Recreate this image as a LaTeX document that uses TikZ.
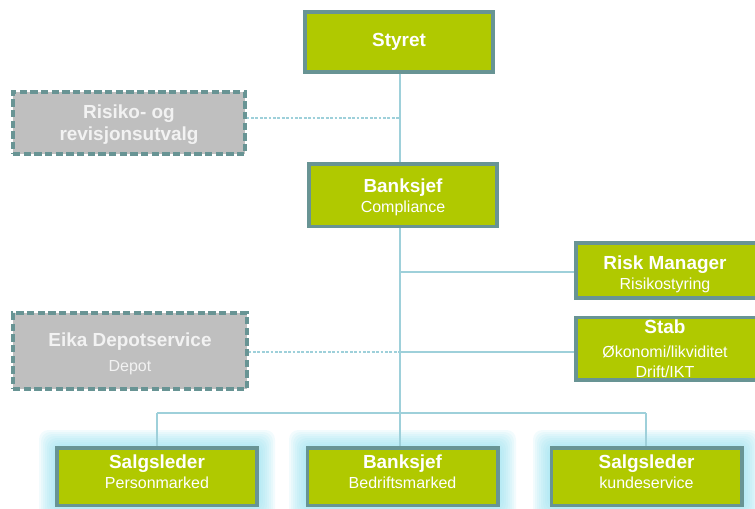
\documentclass[tikz,border=0pt]{standalone}
\usepackage{fontspec}
\setmainfont{Liberation Sans}
\definecolor{grn}{RGB}{176,201,0}
\definecolor{bord}{RGB}{104,148,148}
\definecolor{gfill}{RGB}{191,191,191}
\definecolor{lnc}{RGB}{158,208,218}
\definecolor{glowc}{RGB}{140,222,238}
\definecolor{gtxt}{RGB}{242,242,242}
\begin{document}
\begin{tikzpicture}[x=0.75pt,y=-0.75pt,
  gbox/.style={draw=bord,fill=grn,line width=2.5pt,inner sep=0pt},
  dbox/.style={draw=bord,fill=gfill,line width=2.5pt,inner sep=0pt,dash pattern=on 5.5pt off 2.5pt},
  txt/.style={text=white,align=center,inner sep=0pt,font=\fontsize{12}{15}\selectfont},
  gtx/.style={text=gtxt,align=center,inner sep=0pt,font=\fontsize{12}{15}\selectfont},
  conn/.style={draw=lnc,line width=1.1pt},
  dconn/.style={draw=lnc,line width=0.8pt,dash pattern=on 2pt off 1.3pt},
  glow/.style={fill=glowc,fill opacity=0.11,draw=none,rounded corners=7pt}
]
\newcommand{\ttl}[1]{{\bfseries\fontsize{14.2}{15}\selectfont #1}}
\useasboundingbox (0,0) rectangle (755,509);
% glows
\foreach \cx/\w in {157/200,402.5/191,646.5/191}{
  \foreach \e in {2,4,...,18}{
    \path[glow] (\cx-\w/2-\e,448-\e) rectangle (\cx+\w/2+\e,505+\e);
  }
}
% boxes
\node[gbox,minimum width=141pt,minimum height=45pt] (sty) at (399,42) {};
\node[dbox,minimum width=174pt,minimum height=46.5pt] (ris) at (129,123) {};
\node[gbox,minimum width=141pt,minimum height=47pt] (bk) at (403,195.5) {};
\node[gbox,minimum width=136.5pt,minimum height=41pt] (rm) at (667,270.5) {};
\node[gbox,minimum width=136.5pt,minimum height=47pt] (stab) at (667,348.5) {};
\node[dbox,minimum width=175.5pt,minimum height=57pt] (eika) at (130,351) {};
\node[gbox,minimum width=150pt,minimum height=43pt] (p1) at (157,476.5) {};
\node[gbox,minimum width=143pt,minimum height=43pt] (p2) at (402.5,476.5) {};
\node[gbox,minimum width=143pt,minimum height=43pt] (p3) at (646.5,476.5) {};
% texts
\node[gtx,font=\fontsize{14.2}{16.5}\selectfont\bfseries] (rist) at (129,125) {Risiko- og\\revisjonsutvalg};
\node[txt] (styt) at (399,42) {\ttl{Styret}};
\node[txt] (bkt) at (403,197.5) {\ttl{Banksjef}\\Compliance};
\node[txt] (rmt) at (665,274.5) {\ttl{Risk Manager}\\Risikostyring};
\node[txt] (stabt) at (665,349) {\ttl{Stab}\\[3pt]Økonomi/likviditet\\Drift/IKT};
\node[gtx] (eikat) at (130,353.5) {\ttl{Eika Depotservice}\\[4pt]Depot};
\node[txt] (p1t) at (157,472) {\ttl{Salgsleder}\\Personmarked};
\node[txt] (p2t) at (402.5,472) {\ttl{Banksjef}\\Bedriftsmarked};
\node[txt] (p3t) at (646.5,472) {\ttl{Salgsleder}\\kundeservice};
% junction coordinates
\coordinate (jr) at (400,118);
\coordinate (jm) at (400,272);
\coordinate (js) at (400,352);
\coordinate (jb) at (400,413);
\coordinate (jl) at (157,413);
\coordinate (jrr) at (646,413);
% connectors
\draw[conn] (sty.south -| jr) -- (bk.north -| jr);
\draw[dconn] (ris.east |- jr) -- (jr);
\draw[conn] (bk.south -| jb) -- (jb);
\draw[conn] (rm.west |- jm) -- (jm);
\draw[conn] (stab.west |- js) -- (js);
\draw[dconn] (eika.east |- js) -- (js);
\draw[conn] (jl) -- (jrr);
\draw[conn] (jl) -- (p1.north -| jl);
\draw[conn] (jb) -- (p2.north -| jb);
\draw[conn] (jrr) -- (p3.north -| jrr);
\end{tikzpicture}
\end{document}
